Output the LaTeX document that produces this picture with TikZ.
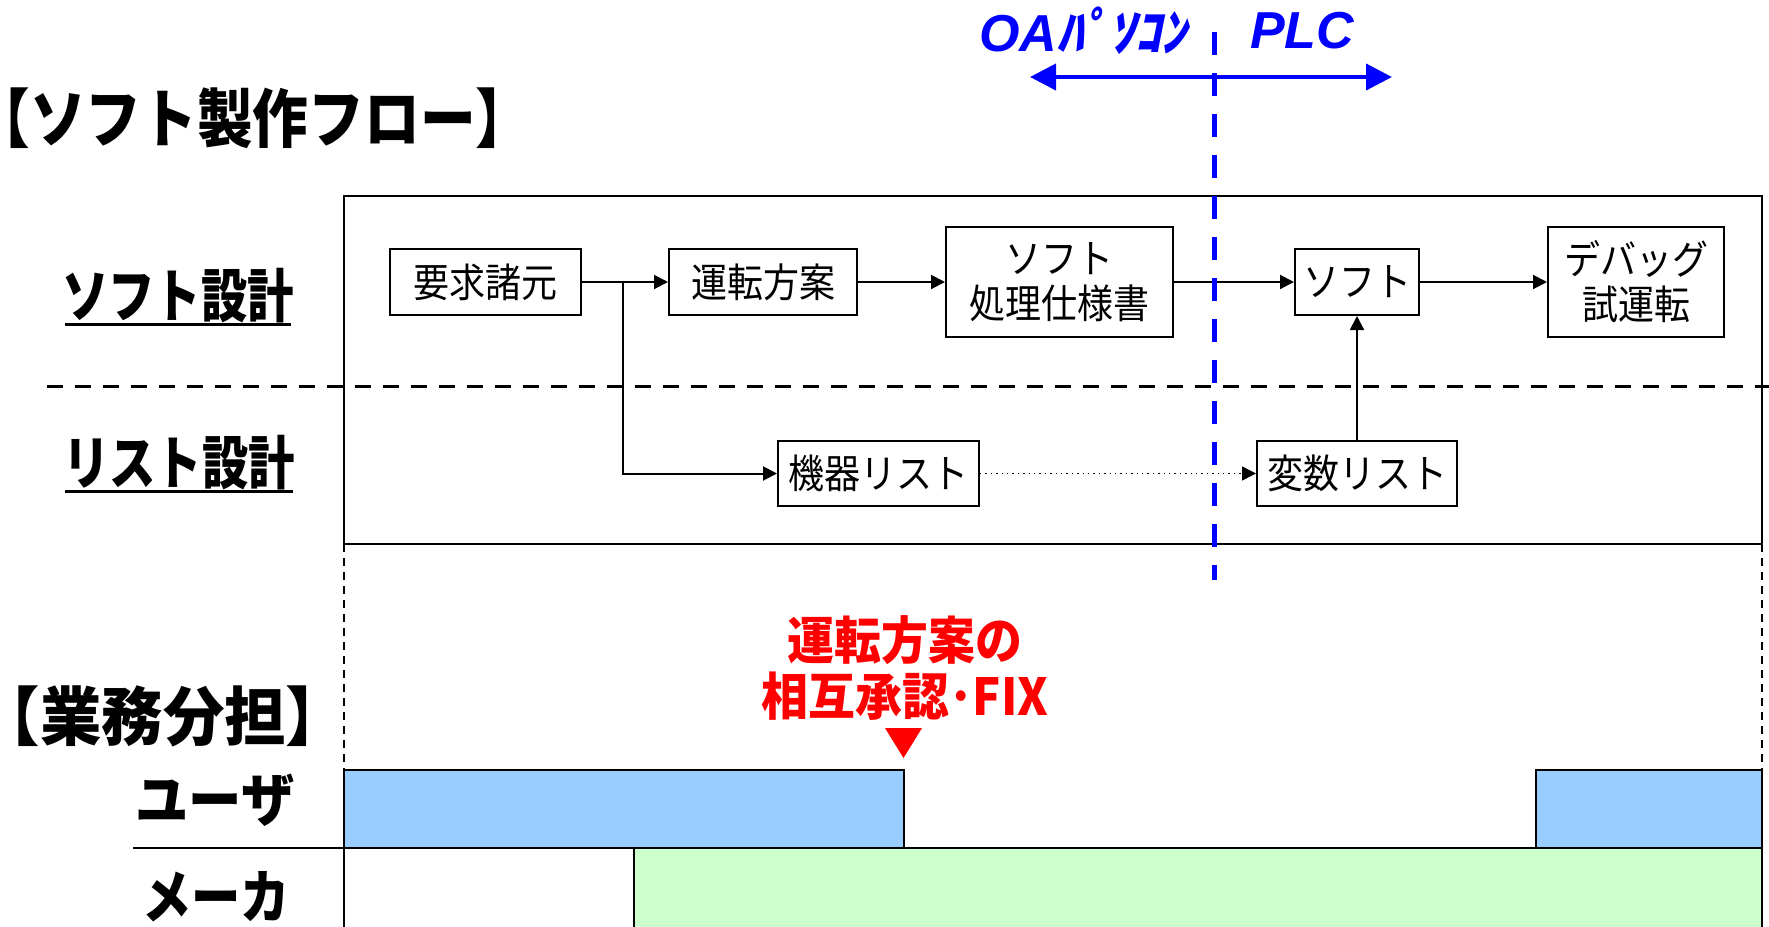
\documentclass[tikz,border=0pt]{standalone}
\usepackage{fontspec}
\usetikzlibrary{arrows.meta}
\newfontfamily\jpn{Noto Sans CJK JP}[FakeStretch=0.9]
\newfontfamily\jpc{Noto Sans CJK JP}[FakeStretch=0.8]
\newfontfamily\jpw{Noto Sans CJK JP}[FakeStretch=0.92]
\newfontfamily\jpm{Noto Sans CJK JP}[FakeStretch=0.85]
\newfontfamily\jpt{Noto Sans CJK JP}[FakeStretch=0.87]
\newfontfamily\jpg{Noto Sans CJK JP}[FakeStretch=0.96]
\newfontfamily\jpi{Noto Sans CJK JP}[FakeSlant=0.2]
\newfontfamily\lib{Liberation Sans}
\definecolor{userblue}{HTML}{99CCFF}
\definecolor{makergreen}{HTML}{CCFFCC}
\begin{document}
\begin{tikzpicture}[x=0.5pt,y=-0.5pt,
  box/.style={draw,line width=1pt,inner sep=0pt,align=center,
    font=\jpn\fontsize{20pt}{22.5pt}\selectfont},
  conn/.style={line width=1pt,-{Triangle[length=7pt,width=7pt]}},
  lane/.style={inner sep=0pt,font=\jpc\bfseries\fontsize{29pt}{29pt}\selectfont},
  head/.style={inner sep=0pt,font=\jpt\bfseries\fontsize{32pt}{32pt}\selectfont},
  role/.style={inner sep=0pt,font=\jpw\bfseries\fontsize{29pt}{29pt}\selectfont},
  bluetxt/.style={inner sep=0pt,text=blue,font=\fontsize{26pt}{26pt}\selectfont\bfseries},
  bar/.style={draw,line width=1pt}]
\useasboundingbox (0,0) rectangle (1769,927);
\fill[white] (0,0) rectangle (1769,927);

% titles
\node[head] (title) at (253,118) {【ソフト製作フロー】};
\node[head,font=\jpg\bfseries\fontsize{32pt}{32pt}\selectfont] (gyomu) at (163,716) {【業務分担】};

% outer frame and lane separator
\draw[line width=1pt] (344,196) rectangle (1762,544);
\draw[line width=1.5pt,dash pattern=on 8pt off 6pt] (47,386) -- (1769,386);

% lane labels
\node[lane] (sd) at (178,296) {ソフト設計};
\draw[line width=1.5pt] (65,324) -- (291,324);
\node[lane] (ld) at (179,463) {リスト設計};
\draw[line width=1.5pt] (65,491) -- (293,491);

% boxes
\node[box,minimum width=95.5pt,minimum height=33pt] (req) at (485.5,282) {\raisebox{-1pt}{要求諸元}};
\node[box,minimum width=94pt,minimum height=33pt] (ops) at (763,282) {\raisebox{-1pt}{運転方案}};
\node[box,minimum width=113.5pt,minimum height=55pt] (spec) at (1059.5,282) {ソフト\\処理仕様書};
\node[box,minimum width=62pt,minimum height=33pt] (soft) at (1357,282) {\raisebox{-1pt}{ソフト}};
\node[box,minimum width=88pt,minimum height=55pt] (debug) at (1636,282) {デバッグ\\試運転};
\node[box,minimum width=100.5pt,minimum height=32.5pt] (dev) at (878.5,473.5) {\raisebox{-1pt}{機器リスト}};
\node[box,minimum width=100pt,minimum height=32.5pt] (var) at (1357,473.5) {\raisebox{-1pt}{変数リスト}};

% connectors
\coordinate (br) at (623,282);
\draw[conn] (req.east) -- (ops.west);
\draw[conn] (br) |- (dev.west);
\draw[conn] (ops.east) -- (spec.west);
\draw[conn] (spec.east) -- (soft.west);
\draw[conn] (soft.east) -- (debug.west);
\draw[conn] (var.north) -- (soft.south);
\draw[line width=0.7pt,dotted,-{Triangle[length=7pt,width=7pt]}] (dev.east) -- (var.west);

% dashed verticals below frame
\draw[line width=0.7pt,dash pattern=on 4pt off 3pt] (344,544) -- (344,770);
\draw[line width=0.7pt,dash pattern=on 4pt off 3pt] (1762,544) -- (1762,770);

% OA / PLC boundary
\node[bluetxt] (oa) at (1083,31) {{\lib\itshape OA}{\jpi ﾊﾟｿｺﾝ}};
\node[bluetxt] (plc) at (1302,31) {{\lib\itshape PLC}};
\coordinate (al) at (1030,77);
\coordinate (ar) at (1392,77);
\draw[blue,line width=2pt,{Triangle[length=13pt,width=13pt]}-{Triangle[length=13pt,width=13pt]}] (al) -- (ar);
\draw[blue,line width=2.5pt,dash pattern=on 11.5pt off 9pt] (1214,32) -- (1214,580);

% task split
\node[inner sep=0pt,text=red,align=center,font=\jpw\bfseries\fontsize{25.5pt}{28pt}\selectfont] (fix) at (905,668) {運転方案の\\相互承認･FIX};
\fill[red] (885,728) -- (922,728) -- (903.5,758) -- cycle;

\draw[bar,fill=userblue] (344,770) rectangle (904,848);
\draw[bar,fill=userblue] (1536,770) rectangle (1762,848);
\fill[makergreen] (634,848) rectangle (1762,927);
\draw[line width=1pt] (634,927) -- (634,848);
\draw[line width=1pt] (1762,848) -- (1762,927);
\draw[line width=1pt] (133,848) -- (1762,848);
\draw[line width=1pt] (344,848) -- (344,927);

\node[role] (user) at (215,800) {ユーザ};
\node[role,font=\jpm\bfseries\fontsize{29pt}{29pt}\selectfont] (maker) at (216,897) {メーカ};
\end{tikzpicture}
\end{document}
